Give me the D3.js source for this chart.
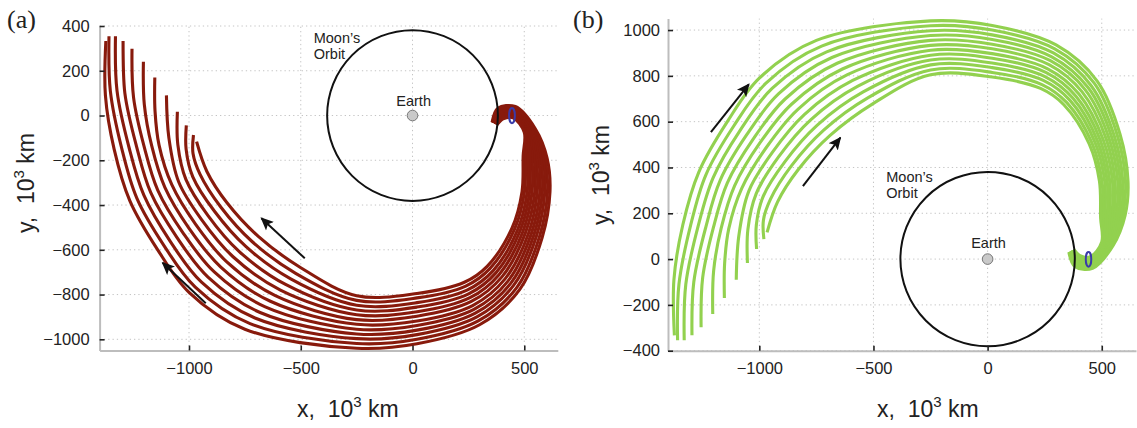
<!DOCTYPE html>
<html><head><meta charset="utf-8">
<script src="https://cdn.jsdelivr.net/npm/d3@7"></script>
<style>
body{margin:0;background:#fff;}
svg{display:block;font-family:"Liberation Sans",Arial,Helvetica,sans-serif;}
</style></head><body>
<svg id="chart" width="1137" height="428"></svg>
<script>
// ---------- data (units: 10^3 km) ----------
const xTicks = [-1000, -500, 0, 500];
const yTicksA = [400, 200, 0, -200, -400, -600, -800, -1000];
const yTicksB = [1000, 800, 600, 400, 200, 0, -200, -400];
const moonOrbitRadius = 382;

// panel (a): trajectories leaving the Moon, swinging clockwise and escaping down/left
const trajectoriesA = [
 [[356,-30],[382,32],[460,40],[550,-60],[602,-190],[615,-340],[580,-545],[480,-777],[300,-935],[20,-1020],[-250,-1040],[-750,-955],[-1000,-790],[-1140,-600],[-1265,-380],[-1335,-150],[-1374,90],[-1372,333]],
 [[358,-31],[384,28],[459,35],[545,-61],[592,-189],[604,-340],[568,-541],[467,-768],[294,-918],[20,-1000],[-250,-1019],[-727,-930],[-972,-767],[-1112,-581],[-1234,-368],[-1301,-147],[-1352,110],[-1358,354]],
 [[360,-32],[386,23],[458,31],[541,-63],[583,-188],[592,-340],[555,-537],[453,-758],[288,-900],[20,-979],[-250,-997],[-705,-905],[-944,-745],[-1084,-562],[-1202,-356],[-1268,-144],[-1322,110],[-1329,354]],
 [[362,-33],[388,19],[457,26],[536,-64],[573,-187],[581,-340],[543,-534],[440,-749],[281,-883],[20,-959],[-250,-976],[-682,-880],[-915,-722],[-1055,-543],[-1171,-345],[-1234,-141],[-1287,100],[-1295,333]],
 [[364,-34],[390,15],[456,22],[532,-65],[563,-186],[570,-340],[531,-530],[427,-740],[275,-866],[20,-938],[-250,-955],[-659,-855],[-887,-699],[-1027,-524],[-1140,-333],[-1201,-138],[-1248,80],[-1255,298]],
 [[366,-35],[392,11],[455,17],[527,-67],[553,-185],[558,-340],[519,-526],[414,-730],[269,-849],[20,-918],[-250,-933],[-636,-830],[-859,-676],[-999,-505],[-1108,-321],[-1167,-135],[-1200,50],[-1204,240]],
 [[368,-37],[395,6],[455,13],[523,-68],[544,-185],[547,-340],[506,-522],[400,-721],[263,-831],[20,-897],[-250,-912],[-614,-805],[-831,-654],[-971,-485],[-1077,-309],[-1134,-132],[-1152,20],[-1153,170]],
 [[370,-38],[397,2],[454,8],[518,-70],[534,-184],[535,-340],[494,-518],[387,-711],[257,-814],[20,-877],[-250,-890],[-591,-780],[-803,-631],[-943,-466],[-1046,-297],[-1090,-100],[-1101,90]],
 [[372,-39],[399,-2],[453,4],[514,-71],[524,-183],[524,-340],[482,-514],[374,-702],[251,-797],[20,-856],[-250,-869],[-568,-755],[-775,-608],[-915,-447],[-1014,-285],[-1050,-130],[-1052,17]],
 [[374,-40],[401,-6],[452,-1],[509,-72],[514,-182],[513,-340],[470,-511],[361,-693],[244,-780],[20,-836],[-250,-848],[-545,-730],[-746,-585],[-886,-428],[-983,-274],[-1013,-150],[-1012,-44]],
 [[376,-41],[403,-11],[451,-5],[505,-74],[505,-181],[501,-340],[457,-507],[347,-683],[238,-762],[20,-815],[-250,-826],[-523,-705],[-718,-563],[-858,-409],[-951,-262],[-982,-170],[-980,-87]],
 [[378,-42],[405,-15],[450,-10],[500,-75],[495,-180],[490,-340],[445,-503],[334,-674],[232,-745],[20,-795],[-250,-805],[-500,-680],[-690,-540],[-830,-390],[-920,-250],[-966,-117]]
];

// panel (b): the mirror family, escaping up/left
const trajectoriesB = [
 [[356,30],[382,-32],[460,-40],[550,60],[602,190],[615,340],[580,545],[480,777],[300,935],[20,1020],[-250,1040],[-750,955],[-1000,790],[-1140,600],[-1265,380],[-1335,150],[-1374,-90],[-1372,-333]],
 [[358,31],[384,-28],[459,-35],[545,61],[592,189],[604,340],[568,541],[467,768],[294,918],[20,1000],[-250,1019],[-727,930],[-972,767],[-1112,581],[-1234,368],[-1301,147],[-1352,-110],[-1358,-354]],
 [[360,32],[386,-23],[458,-31],[541,63],[583,188],[592,340],[555,537],[453,758],[288,900],[20,979],[-250,997],[-705,905],[-944,745],[-1084,562],[-1202,356],[-1268,144],[-1322,-110],[-1329,-354]],
 [[362,33],[388,-19],[457,-26],[536,64],[573,187],[581,340],[543,534],[440,749],[281,883],[20,959],[-250,976],[-682,880],[-915,722],[-1055,543],[-1171,345],[-1234,141],[-1287,-100],[-1295,-333]],
 [[364,34],[390,-15],[456,-22],[532,65],[563,186],[570,340],[531,530],[427,740],[275,866],[20,938],[-250,955],[-659,855],[-887,699],[-1027,524],[-1140,333],[-1201,138],[-1248,-80],[-1255,-298]],
 [[366,35],[392,-11],[455,-17],[527,67],[553,185],[558,340],[519,526],[414,730],[269,849],[20,918],[-250,933],[-636,830],[-859,676],[-999,505],[-1108,321],[-1167,135],[-1200,-50],[-1204,-240]],
 [[368,37],[395,-6],[455,-13],[523,68],[544,185],[547,340],[506,522],[400,721],[263,831],[20,897],[-250,912],[-614,805],[-831,654],[-971,485],[-1077,309],[-1134,132],[-1152,-20],[-1153,-170]],
 [[370,38],[397,-2],[454,-8],[518,70],[534,184],[535,340],[494,518],[387,711],[257,814],[20,877],[-250,890],[-591,780],[-803,631],[-943,466],[-1046,297],[-1090,100],[-1101,-90]],
 [[372,39],[399,2],[453,-4],[514,71],[524,183],[524,340],[482,514],[374,702],[251,797],[20,856],[-250,869],[-568,755],[-775,608],[-915,447],[-1014,285],[-1050,130],[-1052,-17]],
 [[374,40],[401,6],[452,1],[509,72],[514,182],[513,340],[470,511],[361,693],[244,780],[20,836],[-250,848],[-545,730],[-746,585],[-886,428],[-983,274],[-1013,150],[-1012,44]],
 [[376,41],[403,11],[451,5],[505,74],[505,181],[501,340],[457,507],[347,683],[238,762],[20,815],[-250,826],[-523,705],[-718,563],[-858,409],[-951,262],[-982,170],[-980,87]],
 [[378,42],[405,15],[450,10],[500,75],[495,180],[490,340],[445,503],[334,674],[232,745],[20,795],[-250,805],[-500,680],[-690,540],[-830,390],[-920,250],[-966,117]]
];

// direction arrows: [tail, head]
const arrowsA = [ [[-482,-638],[-676,-459]], [[-925,-839],[-1118,-658]] ];
const arrowsB = [ [[-1212,554],[-1046,763]], [[-809,319],[-645,530]] ];

// small ellipse marking the Moon: centre x, centre y, semi-axis x, semi-axis y
const moonMarkerA = [445, 0, 13, 34];
const moonMarkerB = [442, -1, 12, 32];

// ---------- drawing ----------
const svg = d3.select("#chart");
const defs = svg.append("defs");
defs.append("marker").attr("id","ah").attr("viewBox","0 0 10 10")
  .attr("refX",9).attr("refY",5).attr("markerWidth",6.5).attr("markerHeight",6.5)
  .attr("markerUnits","strokeWidth").attr("orient","auto")
  .append("path").attr("d","M0,0.5 L10,5 L0,9.5 L2.2,5 Z").attr("fill","#111");

const fmt = d3.format("d");

function drawPanel(cfg){
  const x = d3.scaleLinear().domain([-1400,650]).range(cfg.xRange);
  const y = d3.scaleLinear().domain(cfg.yDomain).range(cfg.yRange);
  const g = svg.append("g");
  const [x0,x1] = cfg.xRange, [yb,yt] = cfg.yRange;

  // grid
  g.append("g").selectAll("line").data(xTicks).join("line")
    .attr("x1",d=>x(d)).attr("x2",d=>x(d)).attr("y1",yb).attr("y2",yt)
    .attr("stroke","#c4c4c4").attr("stroke-width",1).attr("stroke-dasharray","1.3,3");
  g.append("g").selectAll("line").data(cfg.yTicks).join("line")
    .attr("x1",x0).attr("x2",x1).attr("y1",d=>y(d)).attr("y2",d=>y(d))
    .attr("stroke","#c4c4c4").attr("stroke-width",1).attr("stroke-dasharray","1.3,3");

  // trajectories
  const line = d3.line().x(d=>x(d[0])).y(d=>y(d[1])).curve(d3.curveCatmullRom.alpha(0.5));
  g.append("g").selectAll("path").data(cfg.traj).join("path")
    .attr("d",line).attr("fill","none").attr("stroke",cfg.color)
    .attr("stroke-width",3.1).attr("stroke-linejoin","round");

  // Moon's orbit and Earth
  g.append("circle").attr("cx",x(0)).attr("cy",y(0))
    .attr("r",x(moonOrbitRadius)-x(0)).attr("fill","none")
    .attr("stroke","#111").attr("stroke-width",2);
  g.append("circle").attr("cx",x(0)).attr("cy",y(0)).attr("r",5.3)
    .attr("fill","#c9c9c9").attr("stroke","#777").attr("stroke-width",1);
  g.append("text").attr("x",x(cfg.earthLabel[0])).attr("y",y(cfg.earthLabel[1]))
    .attr("text-anchor","middle").attr("font-size",14.5).attr("fill","#222").text("Earth");
  const ml = g.append("text").attr("font-size",14.5).attr("fill","#222");
  ml.append("tspan").attr("x",x(cfg.moonLabel[0])).attr("y",y(cfg.moonLabel[1])).text("Moon\u2019s");
  ml.append("tspan").attr("x",x(cfg.moonLabel[0])).attr("y",y(cfg.moonLabel[2])).text("Orbit");

  // moon marker
  const mm = cfg.moonMarker;
  g.append("ellipse").attr("cx",x(mm[0])).attr("cy",y(mm[1]))
    .attr("rx",x(mm[2])-x(0)).attr("ry",y(0)-y(mm[3]))
    .attr("fill","none").attr("stroke","#3a3aa8").attr("stroke-width",2);

  // arrows
  g.append("g").selectAll("line").data(cfg.arrows).join("line")
    .attr("x1",d=>x(d[0][0])).attr("y1",d=>y(d[0][1]))
    .attr("x2",d=>x(d[1][0])).attr("y2",d=>y(d[1][1]))
    .attr("stroke","#111").attr("stroke-width",2).attr("marker-end","url(#ah)");

  // axes
  const ax = g.append("g").attr("transform",`translate(0,${yb})`)
    .call(d3.axisBottom(x).tickValues(xTicks).tickFormat(fmt).tickSize(-5).tickSizeOuter(0).tickPadding(12));
  const ay = g.append("g").attr("transform",`translate(${x0},0)`)
    .call(d3.axisLeft(y).tickValues(cfg.yTicks).tickFormat(fmt).tickSize(-5).tickSizeOuter(0).tickPadding(cfg.yPad));
  [ax,ay].forEach(a=>{
    a.select(".domain").attr("stroke","#bdbdbd").attr("stroke-width",2);
    a.selectAll(".tick line").attr("stroke","#222").attr("stroke-width",1.6);
    a.selectAll(".tick text").attr("font-size",16.5).attr("fill","#222")
      .attr("font-family","'Liberation Sans',Arial,sans-serif");
  });

  // axis titles
  const xt = g.append("text").attr("x",cfg.xTitle[0]).attr("y",cfg.xTitle[1])
    .attr("font-size",23).attr("fill","#222").style("white-space","pre");
  xt.append("tspan").text("x,  10");
  xt.append("tspan").attr("font-size",15).attr("dy",-10).text("3");
  xt.append("tspan").attr("dy",10).text(" km");
  const yt2 = g.append("text").attr("transform",`translate(${cfg.yTitle[0]},${cfg.yTitle[1]}) rotate(-90)`)
    .attr("text-anchor","middle").attr("font-size",23).attr("fill","#222").style("white-space","pre");
  yt2.append("tspan").text("y,  10");
  yt2.append("tspan").attr("font-size",15).attr("dy",-10).text("3");
  yt2.append("tspan").attr("dy",10).text(" km");

  // panel label
  svg.append("text").attr("x",cfg.panel[0]).attr("y",cfg.panel[1])
    .attr("font-family","'Liberation Serif','Times New Roman',serif")
    .attr("font-size",26).attr("fill","#222").text(cfg.panel[2]);
}

drawPanel({
  xRange:[99.6,557.8], yDomain:[-1050,400], yRange:[350.5,26], yTicks:yTicksA,
  traj:trajectoriesA, color:"#881a0c", arrows:arrowsA, moonMarker:moonMarkerA,
  earthLabel:[5,42], moonLabel:[-442,324,252], yPad:10,
  xTitle:[297,417], yTitle:[34,183], panel:[7,28,"(a)"]
});
drawPanel({
  xRange:[668,1136], yDomain:[-400,1050], yRange:[350.7,18.6], yTicks:yTicksB,
  traj:trajectoriesB, color:"#92d14f", arrows:arrowsB, moonMarker:moonMarkerB,
  earthLabel:[4,48], moonLabel:[-444,335,265], yPad:8,
  xTitle:[877,417], yTitle:[609,175], panel:[573,28,"(b)"]
});
</script>
</body></html>
